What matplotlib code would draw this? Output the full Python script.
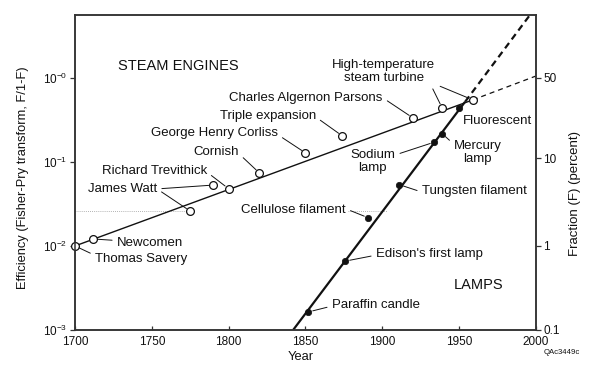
import matplotlib
matplotlib.use('Agg')
import matplotlib.pyplot as plt
from matplotlib.ticker import NullLocator, FixedLocator, FixedFormatter

plt.rcParams['font.family'] = ['Liberation Sans', 'DejaVu Sans']
plt.rcParams['mathtext.fontset'] = 'custom'
plt.rcParams['mathtext.rm'] = 'Liberation Sans'
plt.rcParams['mathtext.it'] = 'Liberation Sans:italic'
plt.rcParams['mathtext.bf'] = 'Liberation Sans:bold'

# ---------- Data ----------
# steam engines: year, efficiency as F/(1-F)
steam_years = [1700, 1712, 1775, 1790, 1800, 1820, 1850, 1874, 1920, 1939, 1959]
steam_eff = [0.0100, 0.0121, 0.026, 0.053, 0.048, 0.074, 0.128, 0.204, 0.334, 0.44, 0.547]

# lamps
lamp_years = [1852, 1876, 1891, 1911, 1934, 1939, 1950]
lamp_eff = [0.00164, 0.0066, 0.0216, 0.0537, 0.172, 0.217, 0.435]

# fitted trends (solid) and projections (dashed)
steam_fit_years = [1700, 1959]
steam_fit = [0.0100, 0.547]
steam_proj_years = [1959, 2000]
steam_proj = [0.547, 1.05]

lamp_fit_years = [1842, 1954]
lamp_fit = [0.0010, 0.52]
lamp_proj_years = [1954, 1998]
lamp_proj = [0.52, 6.2]

# faint dotted guide visible in the scan
guide_level = 0.026
guide_spans = [(1700, 1774), (1878, 1903)]

left_ticks = [1e-3, 1e-2, 1e-1, 1e0]
left_labels = [r'$10^{-3}$', r'$10^{-2}$', r'$10^{-1}$', r'$10^{-0}$']
right_pct = [0.1, 1, 10, 50]
right_labels = ['0.1', '1', '10', '50']
x_ticks = [1700, 1750, 1800, 1850, 1900, 1950, 2000]

# ---------- Figure ----------
fig = plt.figure(figsize=(6, 3.8), dpi=100)
ax = fig.add_axes([0.125, 0.1316, 0.768, 0.829])
ax.set_yscale('log')
ax.set_xlim(1700, 2000)
ax.set_ylim(1e-3, 5.6)

INK = '#111111'
SPINE = '#333333'

for x0, x1 in guide_spans:
    ax.plot([x0, x1], [guide_level, guide_level], color='#9a9a9a',
            lw=0.6, ls=(0, (1, 1.5)), zorder=1)

ax.plot(steam_fit_years, steam_fit, color=INK, lw=1.0, zorder=2)
ax.plot(steam_proj_years, steam_proj, color=INK, lw=0.9,
        dashes=(4, 3.2), zorder=2)
ax.plot(lamp_fit_years, lamp_fit, color=INK, lw=1.6, zorder=2,
        solid_capstyle='butt')
ax.plot(lamp_proj_years, lamp_proj, color=INK, lw=1.6,
        dashes=(3.0, 2.0), zorder=2)

ax.plot(steam_years, steam_eff, ls='none', marker='o', ms=5.6,
        mfc='white', mec=INK, mew=0.9, zorder=4, clip_on=False)
ax.plot(lamp_years, lamp_eff, ls='none', marker='o', ms=4.6,
        mfc=INK, mec=INK, mew=0.5, zorder=4)

# ---------- Labels with leader lines ----------
FS = 9.5
lead = dict(arrowstyle='-', color=INK, lw=0.7, shrinkA=1.5, shrinkB=3.2)


def label(text, xs, ys, i, pos, ha='left', relpos=(0, 0.5), color=INK):
    p = dict(lead, relpos=relpos)
    ax.annotate(text, xy=(xs[i], ys[i]), xytext=pos, ha=ha, va='center',
                fontsize=FS, color=color, arrowprops=p, zorder=5,
                multialignment='center', linespacing=1.1)


label('Charles Algernon Parsons', steam_years, steam_eff, 8, (1900.4, 0.578), 'right', (1, 0.5))
label('Triple expansion', steam_years, steam_eff, 7, (1856.8, 0.353), 'right', (1, 0.4))
label('George Henry Corliss', steam_years, steam_eff, 6, (1832.1, 0.221), 'right', (1, 0.35))
label('Cornish', steam_years, steam_eff, 5, (1806.7, 0.1315), 'right', (1, 0.35))
label('Richard Trevithick', steam_years, steam_eff, 4, (1785.9, 0.0781), 'right', (1, 0.4))
label('James Watt', steam_years, steam_eff, 3, (1753.4, 0.0477), 'right', (1, 0.5))
label('James Watt', steam_years, steam_eff, 2, (1753.4, 0.0477), 'right', (1, 0.5), 'none')
label('Newcomen', steam_years, steam_eff, 1, (1727.3, 0.01086), 'left', (0, 0.7))
label('Thomas Savery', steam_years, steam_eff, 0, (1713.0, 0.0070), 'left', (0, 0.8))
label('High-temperature\nsteam turbine', steam_years, steam_eff, 9, (1901.1, 1.18), 'center', (0.94, 0.1))
label('High-temperature\nsteam turbine', steam_years, steam_eff, 10, (1901.1, 1.18), 'center', (0.94, 0.1), 'none')

label('Fluorescent', lamp_years, lamp_eff, 6, (1952.5, 0.307), 'left', (0, 0.9))
label('Mercury\nlamp', lamp_years, lamp_eff, 5, (1962.2, 0.128), 'center', (0, 0.85))
label('Sodium\nlamp', lamp_years, lamp_eff, 4, (1893.9, 0.100), 'center', (1, 0.78))
label('Tungsten filament', lamp_years, lamp_eff, 3, (1925.8, 0.0452), 'left', (0, 0.4))
label('Cellulose filament', lamp_years, lamp_eff, 2, (1876.3, 0.0268), 'right', (1, 0.6))
label("Edison's first lamp", lamp_years, lamp_eff, 1, (1895.9, 0.00803), 'left', (0, 0.4))
label('Paraffin candle', lamp_years, lamp_eff, 0, (1867.2, 0.00199), 'left', (0, 0.4))

ax.text(1728, 1.39, 'STEAM ENGINES', fontsize=10.5, color=INK,
        ha='left', va='center')
ax.text(1946.6, 0.00343, 'LAMPS', fontsize=10.5, color=INK,
        ha='left', va='center')

# ---------- Axes styling ----------
for s in ax.spines.values():
    s.set_color(SPINE)
    s.set_linewidth(1.1)

ax.yaxis.set_major_locator(FixedLocator(left_ticks))
ax.yaxis.set_major_formatter(FixedFormatter(left_labels))
ax.yaxis.set_minor_locator(NullLocator())
ax.set_xticks(x_ticks)
ax.tick_params(axis='y', direction='out', length=3.5, width=0.9,
               colors=SPINE, labelcolor=INK, labelsize=8.5, pad=2)
ax.tick_params(axis='x', direction='in', length=3, width=0.9,
               colors=SPINE, labelcolor=INK, labelsize=8.5, pad=4)

ax2 = ax.twinx()
ax2.set_yscale('log')
ax2.set_ylim(ax.get_ylim())
ax2.yaxis.set_major_locator(FixedLocator([p / 100 / (1 - p / 100) for p in right_pct]))
ax2.yaxis.set_major_formatter(FixedFormatter(right_labels))
ax2.yaxis.set_minor_locator(NullLocator())
ax2.tick_params(axis='y', direction='out', length=3.5, width=0.9,
                colors=SPINE, labelcolor=INK, labelsize=8.5, pad=2)
for s in ax2.spines.values():
    s.set_color(SPINE)
    s.set_linewidth(1.1)

fig.text(23 / 600, 1 - 178 / 380, 'Efficiency (Fisher-Pry transform, F/1-F)',
         rotation=90, ha='center', va='center', fontsize=9.3, color=INK)
fig.text(575 / 600, 1 - 193 / 380, 'Fraction (F) (percent)',
         rotation=90, ha='center', va='center', fontsize=9.5, color=INK)
fig.text(301 / 600, 1 - 357 / 380, 'Year', ha='center', va='center',
         fontsize=9.3, color=INK)
fig.text(562 / 600, 1 - 352 / 380, 'QAc3449c', ha='center', va='center',
         fontsize=5.6, color=INK)

fig.savefig('out.png', dpi=100, facecolor='white')
